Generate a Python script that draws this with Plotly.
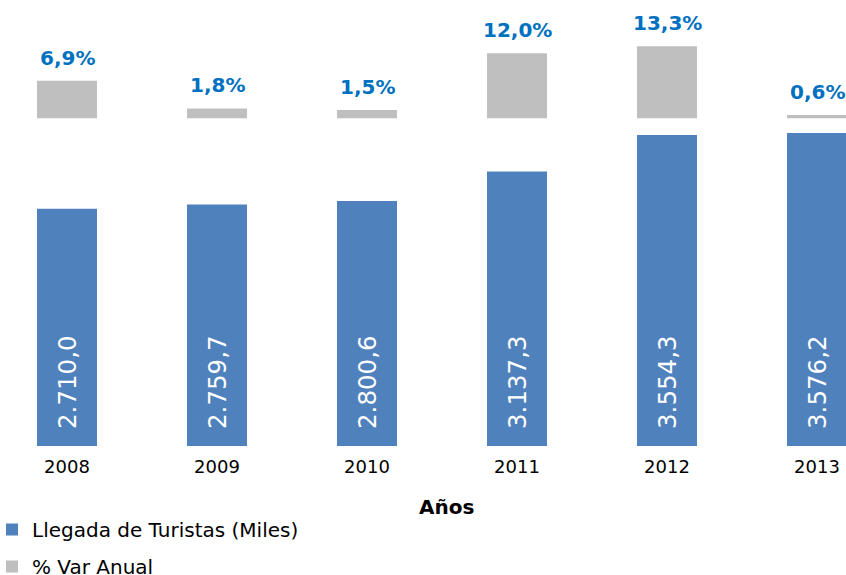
import plotly.graph_objects as go

years = ["2008", "2009", "2010", "2011", "2012", "2013"]
arrivals = [2710.0, 2759.7, 2800.6, 3137.3, 3554.3, 3576.2]
pct_var = [6.9, 1.8, 1.5, 12.0, 13.3, 0.6]

BLUE = "#4F81BD"
GRAY = "#BFBFBF"
LABEL_BLUE = "#0070C0"
FONT = "DejaVu Sans, Verdana, sans-serif"

W, H = 846, 575
BASE_PX = 446  # pixel row of the category baseline

def es(v, dec=1):
    s = f"{v:,.{dec}f}"
    return s.replace(",", "X").replace(".", ",").replace("X", ".")

fig = go.Figure()
fig.add_trace(go.Bar(
    x=years, y=arrivals, name="Llegada de Turistas (Miles)",
    marker=dict(color=BLUE, line=dict(width=0)), width=0.4,
    yaxis="y", legendgroup="a", hoverinfo="x+y",
))
fig.add_trace(go.Bar(
    x=years, y=pct_var, name="% Var Anual",
    marker=dict(color=GRAY, line=dict(width=0)), width=0.4,
    yaxis="y2", legendgroup="b", hoverinfo="x+y",
))

annotations = []
for i, v in enumerate(arrivals):
    annotations.append(dict(
        x=i, y=0, xref="x", yref="y", text=es(v), showarrow=False,
        textangle=-90, yanchor="bottom", xanchor="center", yshift=15,
        font=dict(family=FONT, size=24.5, color="white"),
    ))
for i, v in enumerate(pct_var):
    annotations.append(dict(
        x=i, y=v, xref="x", yref="y2", text="<b>" + es(v) + "%</b>", showarrow=False,
        yanchor="bottom", xanchor="center", yshift=9,
        font=dict(family=FONT, size=20, color=LABEL_BLUE),
    ))
annotations.append(dict(
    x=446 / W, y=1 - 507 / H, xref="paper", yref="paper",
    text="<b>Años</b>", showarrow=False, xanchor="center", yanchor="middle",
    font=dict(family=FONT, size=20, color="#000000"),
))

dom = [1 - BASE_PX / H, 1]

fig.update_layout(
    width=W, height=H,
    margin=dict(l=0, r=0, t=0, b=0, pad=0, autoexpand=False),
    paper_bgcolor="white", plot_bgcolor="white",
    barmode="overlay",
    separators=",.",
    font=dict(family=FONT, size=18, color="#000000"),
    xaxis=dict(
        type="category", range=[-67 / 150, (W - 67) / 150], anchor="y",
        showgrid=False, zeroline=False, showline=False, ticks="",
        ticklabelstandoff=8, tickfont=dict(family=FONT, size=18, color="#000000"),
        automargin=False,
    ),
    yaxis=dict(range=[0, 5096], domain=dom, visible=False, showgrid=False, zeroline=False),
    yaxis2=dict(range=[-60.6, 21.85], domain=dom, overlaying="y", visible=False,
                showgrid=False, zeroline=False),
    showlegend=True,
    legend=dict(
        orientation="v", x=-8 / W, xanchor="left",
        y=1 - 510 / H, yanchor="top",
        font=dict(family=FONT, size=20, color="#000000"),
        tracegroupgap=8, traceorder="grouped", bgcolor="rgba(0,0,0,0)",
    ),
    annotations=annotations,
)

fig.write_html(
    "out.html",
    config={"displayModeBar": False},
    post_script="document.body.style.margin='0';document.body.style.overflow='hidden';",
)
